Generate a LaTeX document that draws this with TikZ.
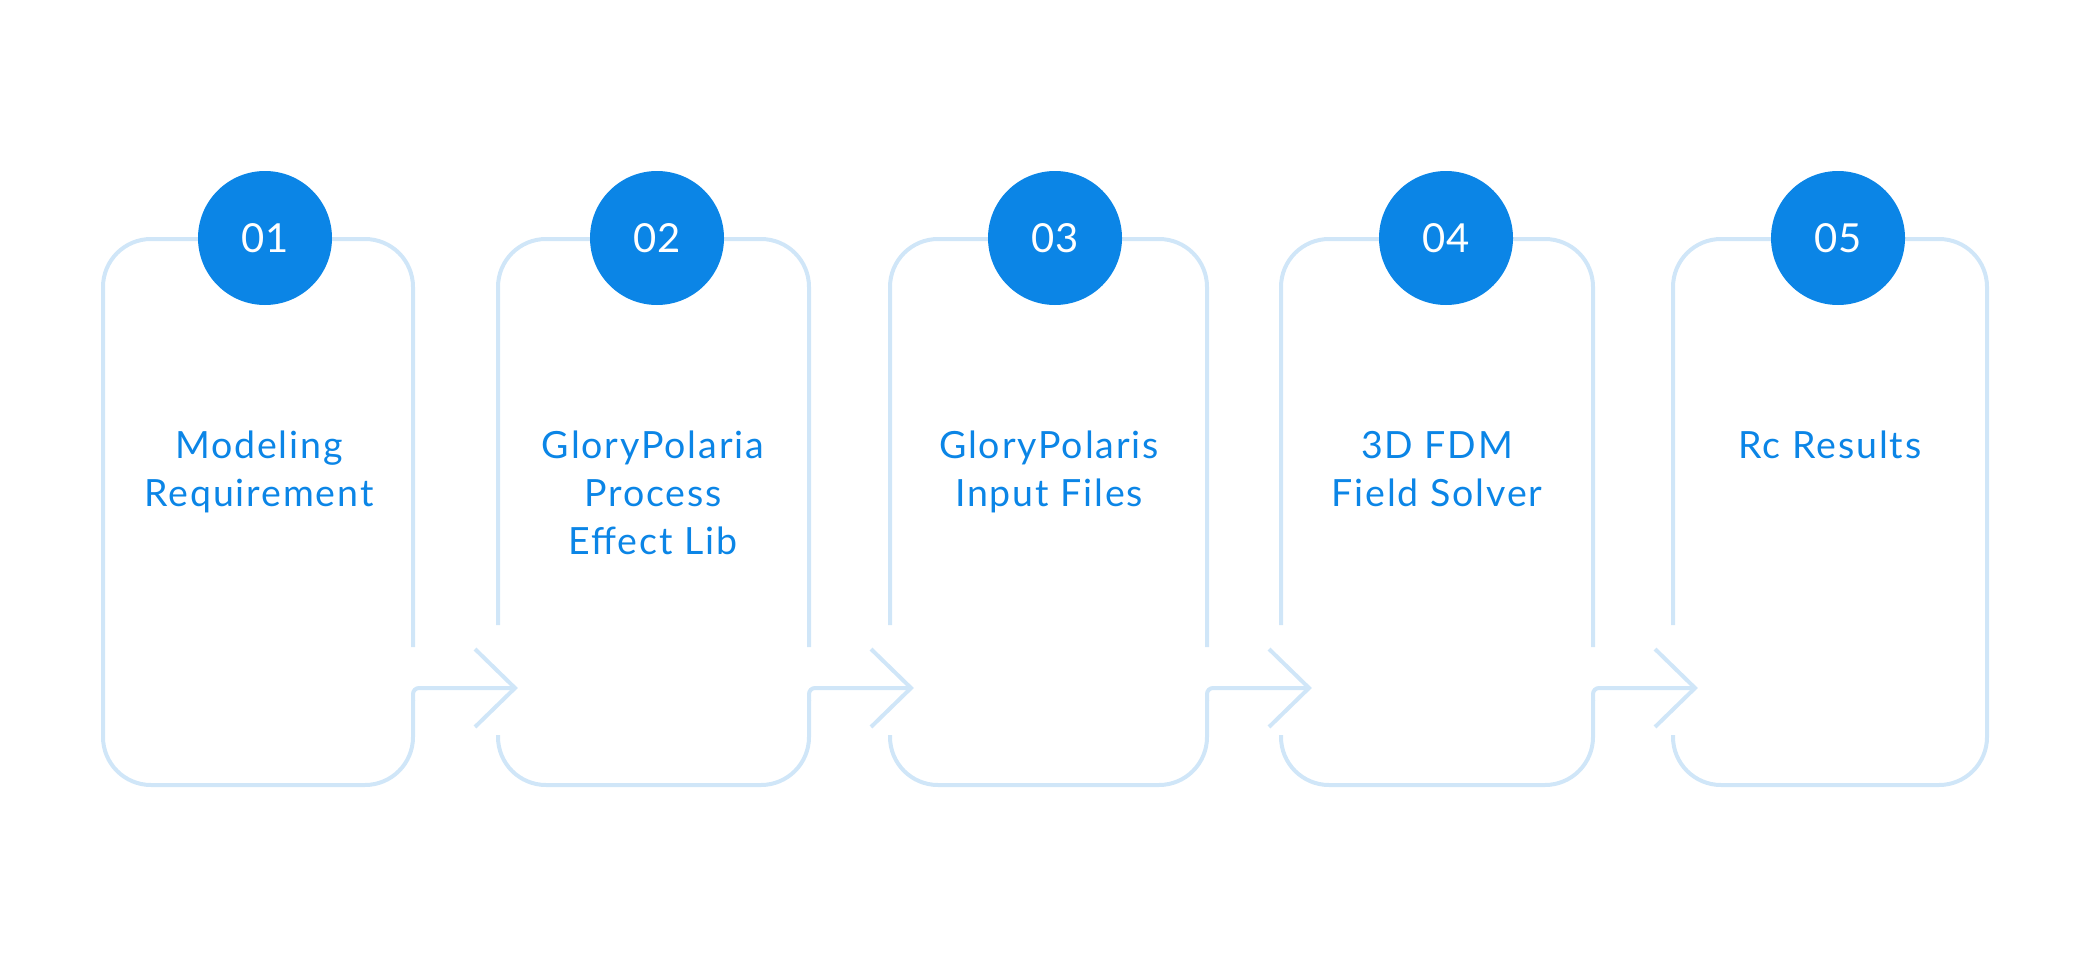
\documentclass[tikz,border=0pt]{standalone}
\usepackage{fontspec}
\setmainfont{Lato}
\newfontfamily\labelfont[LetterSpace=5]{Lato}
\definecolor{mainblue}{HTML}{0B85E6}
\definecolor{lightblue}{HTML}{D0E6F8}
\tikzset{
  outline/.style={draw=lightblue, line width=4pt},
  bigr/.style={rounded corners=48pt},
  smallr/.style={rounded corners=6pt},
  numdot/.style={circle, fill=mainblue, minimum size=134pt, inner sep=0pt, text=white, font=\fontsize{40}{40}\selectfont},
  label/.style={text=mainblue, align=center, anchor=north, inner sep=0pt, font=\labelfont\fontsize{37.5}{48}\selectfont},
}
\begin{document}
\begin{tikzpicture}[x=1pt,y=-1pt]
\useasboundingbox (0,0) rectangle (2092,979);
\def\Top{239}\def\Bot{785}
% box 1 (no incoming)
\draw[outline,bigr] (413,647) -- (413,\Top) -- (103,\Top) -- (103,\Bot) -- (413,\Bot) -- (413,700);
% boxes 2-4 (incoming and outgoing)
\foreach \l/\r in {498/809, 890/1207, 1281/1593}{
  \draw[outline,bigr] (\l,625) -- (\l,\Top) -- (\r,\Top) -- (\r,647);
  \draw[outline,bigr] (\l,735) -- (\l,\Bot) -- (\r,\Bot) -- (\r,700);
}
% box 5 (no outgoing)
\draw[outline,bigr] (1673,625) -- (1673,\Top) -- (1987,\Top) -- (1987,\Bot) -- (1673,\Bot) -- (1673,735);
% connectors
\foreach \r in {413,809,1207,1593}{
  \coordinate (tip\r) at ({\r+102},688);
  \coordinate (corner\r) at (\r,688);
  \coordinate (up\r) at ({\r+62},649);
  \coordinate (dn\r) at ({\r+62},727);
  \draw[outline,smallr] (\r,701) -- (corner\r) -- (tip\r);
  \draw[outline,miter limit=10] (up\r) -- (tip\r) -- (dn\r);
}
% circles
\node[numdot] (c1) at (265,238) {01};
\node[numdot] (c2) at (657,238) {02};
\node[numdot] (c3) at (1055,238) {03};
\node[numdot] (c4) at (1446,238) {04};
\node[numdot] (c5) at (1838,238) {05};
% labels
\node[label] (t1) at (259,431) {Modeling\\Requirement};
\node[label] (t2) at (653,431) {GloryPolaria\\Process\\Effect Lib};
\node[label] (t3) at (1049,431) {GloryPolaris\\Input Files};
\node[label] (t4) at (1437,431) {3D FDM\\Field Solver};
\node[label] (t5) at (1830,431) {Rc Results};
\end{tikzpicture}
\end{document}
